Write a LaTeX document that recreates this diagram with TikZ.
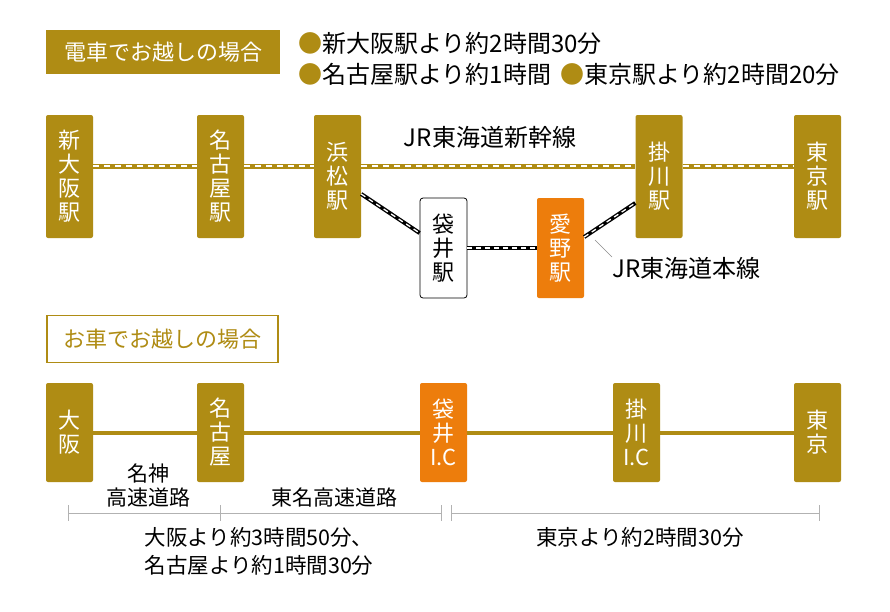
\documentclass[tikz,border=0pt]{standalone}
\usepackage{fontspec}
\setmainfont{Noto Sans CJK JP}
\definecolor{gold}{RGB}{175,140,20}
\definecolor{orng}{RGB}{237,125,12}
\tikzset{
  stn/.style={fill=gold, rounded corners=2pt, minimum width=47pt, minimum height=123pt, text=white,
    font=\fontsize{22}{24}\selectfont, align=center, inner sep=0pt},
  stnb/.style={stn, minimum height=99pt},
  hdr/.style={fill=gold, minimum width=234pt, minimum height=44pt, text=white, font=\fontsize{22}{24}\selectfont, inner sep=0pt},
  hdrw/.style={fill=white, draw=gold, line width=1.2pt, minimum width=231pt, minimum height=47pt, text=gold, font=\fontsize{22}{24}\selectfont, inner sep=0pt},
  txt/.style={inner sep=0pt, font=\fontsize{24}{26}\selectfont},
  stxt/.style={inner sep=0pt, font=\fontsize{21}{24}\selectfont, align=center},
  shk/.style={line width=5pt, draw=gold, postaction={draw=white, line width=1.4pt, dash pattern=on 6pt off 5pt}},
  tkd/.style={line width=4pt, draw=black, postaction={draw=white, line width=1.3pt, dash pattern=on 5pt off 4pt}},
  road/.style={line width=4pt, draw=gold},
  meas/.style={draw=black!30, line width=0.7pt},
}
\begin{document}
\begin{tikzpicture}[x=1pt,y=-1pt]
\useasboundingbox[fill=white] (0,0) rectangle (890,611);
% header train
\node[hdr] (h1) at (163,52) {電車でお越しの場合};
\node[txt, anchor=west] (t1) at (298,43) {\textcolor{gold}{●}新大阪駅より約2時間30分};
\node[txt, anchor=west] (t2) at (298,74) {\textcolor{gold}{●}名古屋駅より約1時間};
\node[txt, anchor=west] (t3) at (560,74) {\textcolor{gold}{●}東京駅より約2時間20分};
% top stations
\node[stn] (shin) at (69.5,176.5) {新\\大\\阪\\駅};
\node[stn] (nago) at (220.5,176.5) {名\\古\\屋\\駅};
\node[stn] (hama) at (337.5,176.5) {浜\\松\\駅};
\node[stn] (kake) at (659,176.5) {掛\\川\\駅};
\node[stn] (tokyo) at (817.5,176.5) {東\\京\\駅};
\node[stn, minimum height=100pt, fill=white, draw=black, line width=0.8pt, text=black, rounded corners=3pt] (fuk) at (443.5,248) {袋\\井\\駅};
\node[stn, minimum height=100pt, fill=orng] (ai) at (560.5,248) {愛\\野\\駅};
\coordinate (sl) at (0,166);
\foreach \a/\b in {shin/nago, nago/hama, hama/kake, kake/tokyo}
  \draw[shk] (\a.east |- sl) -- (\b.west |- sl);
\node[txt, anchor=center] (shklbl) at (490,137) {JR東海道新幹線};
% tokaido line
\draw[tkd] ([yshift=-17.5pt]hama.east) -- ([yshift=15pt]fuk.west);
\draw[tkd] (fuk.east) -- (ai.west);
\draw[tkd] ([yshift=11pt]ai.east) -- ([yshift=-26.5pt]kake.west);
\node[txt, anchor=west] (tkdlbl) at (612,268) {JR東海道本線};
\coordinate (ldA) at (595,240);
\coordinate (ldB) at (612,257);
\draw[black!45, line width=0.6pt] (ldA) -- (ldB);
% car header
\node[hdrw] (h2) at (162.5,339) {お車でお越しの場合};
% bottom stations
\node[stnb] (osaka) at (69.5,432.5) {大\\阪};
\node[stnb] (nago2) at (220.5,432.5) {名\\古\\屋};
\node[stnb, fill=orng] (fukic) at (443.5,432.5) {袋\\井\\I.C};
\node[stnb] (kakeic) at (636.5,432.5) {掛\\川\\I.C};
\node[stnb] (tokyo2) at (817.5,432.5) {東\\京};
\foreach \a/\b in {osaka/nago2, nago2/fukic, fukic/kakeic, kakeic/tokyo2}
  \draw[road] (\a.east) -- (\b.west);
\node[stxt] (meishin) at (148,485) {名神\\高速道路};
\node[stxt] (tomei) at (334,497) {東名高速道路};
% measurement
\coordinate (m1) at (68,513);
\coordinate (m2) at (220,513);
\coordinate (m3) at (441,513);
\coordinate (m4) at (451,513);
\coordinate (m5) at (819,513);
\draw[meas] (m1) -- (m3);
\draw[meas] (m4) -- (m5);
\foreach \m in {m1,m2,m3,m4,m5}
  \draw[meas] ([yshift=8pt]\m) -- ([yshift=-8pt]\m);
\node[stxt, font=\fontsize{21.5}{28}\selectfont] (d1) at (259,551) {大阪より約3時間50分、\\名古屋より約1時間30分};
\node[stxt, font=\fontsize{21.5}{28}\selectfont] (d2) at (640,537) {東京より約2時間30分};
\end{tikzpicture}
\end{document}
